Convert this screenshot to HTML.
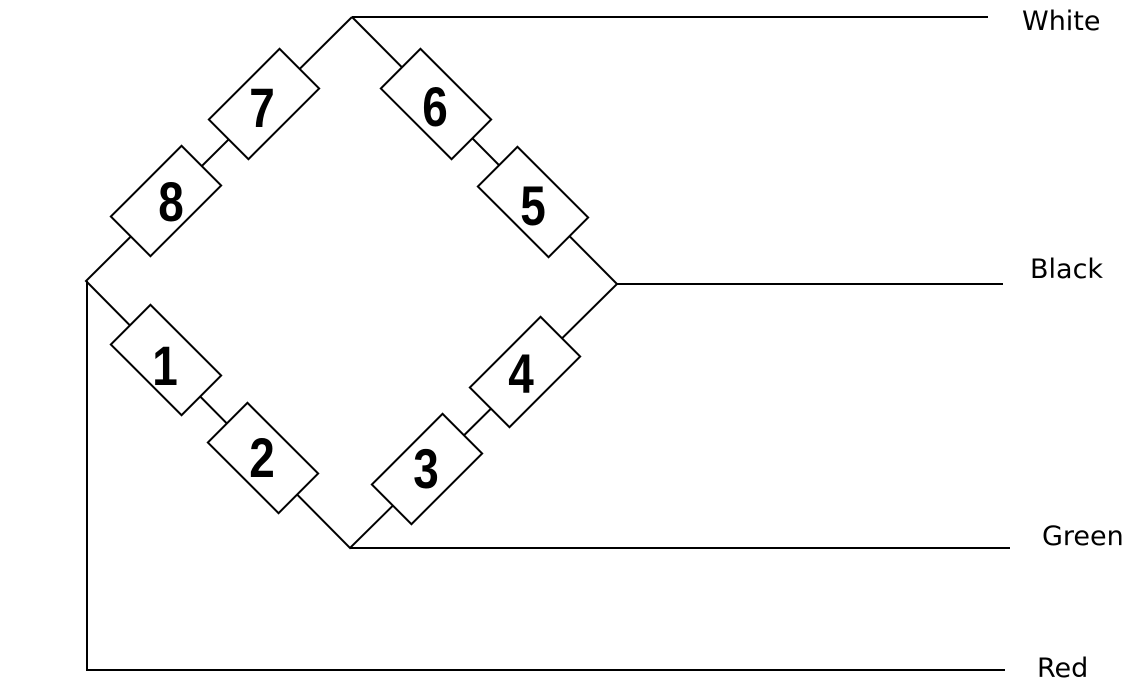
<!DOCTYPE html>
<html><head><meta charset="utf-8"><style>
html,body{margin:0;padding:0;background:#fff;}
svg{display:block;}
.n{font-family:"Liberation Sans",sans-serif;font-weight:bold;font-size:56px;text-anchor:middle;dominant-baseline:central;}
.l{font-family:"DejaVu Sans","Liberation Sans",sans-serif;font-size:27px;}
</style></head><body>
<svg width="1147" height="693" viewBox="0 0 1147 693">
<g stroke="#000" stroke-width="2" fill="none">
<polyline points="352,17 86,281 350,548 617,284 352,17"/>
<line x1="352" y1="17" x2="988" y2="17"/>
<line x1="617" y1="284" x2="1003" y2="284"/>
<line x1="350" y1="548" x2="1010" y2="548"/>
<polyline points="87,281 87,670 1005,670"/>
</g>
<g stroke="#000" stroke-width="2" fill="#fff">
<rect x="-50" y="-28" width="100" height="56" transform="translate(264,104) rotate(-45)"/>
<rect x="-50" y="-28" width="100" height="56" transform="translate(166,201) rotate(-45)"/>
<rect x="-50" y="-28" width="100" height="56" transform="translate(436,104) rotate(45)"/>
<rect x="-50" y="-28" width="100" height="56" transform="translate(533,202) rotate(45)"/>
<rect x="-50" y="-28" width="100" height="56" transform="translate(166,360) rotate(45)"/>
<rect x="-50" y="-28" width="100" height="56" transform="translate(263,458) rotate(45)"/>
<rect x="-50" y="-28" width="100" height="56" transform="translate(525,372) rotate(-45)"/>
<rect x="-50" y="-28" width="100" height="56" transform="translate(427,469) rotate(-45)"/>
</g>
<g class="n">
<text transform="translate(262,108) scale(0.82,1)">7</text>
<text transform="translate(171,202) scale(0.82,1)">8</text>
<text transform="translate(435,107) scale(0.82,1)">6</text>
<text transform="translate(533,206) scale(0.82,1)">5</text>
<text transform="translate(165,366) scale(0.82,1)">1</text>
<text transform="translate(262,458) scale(0.82,1)">2</text>
<text transform="translate(521,374) scale(0.82,1)">4</text>
<text transform="translate(426,469) scale(0.82,1)">3</text>
</g>
<text class="l" x="1022" y="30">White</text>
<text class="l" x="1030" y="278">Black</text>
<text class="l" x="1042" y="545">Green</text>
<text class="l" x="1037" y="677">Red</text>
</svg>
</body></html>
